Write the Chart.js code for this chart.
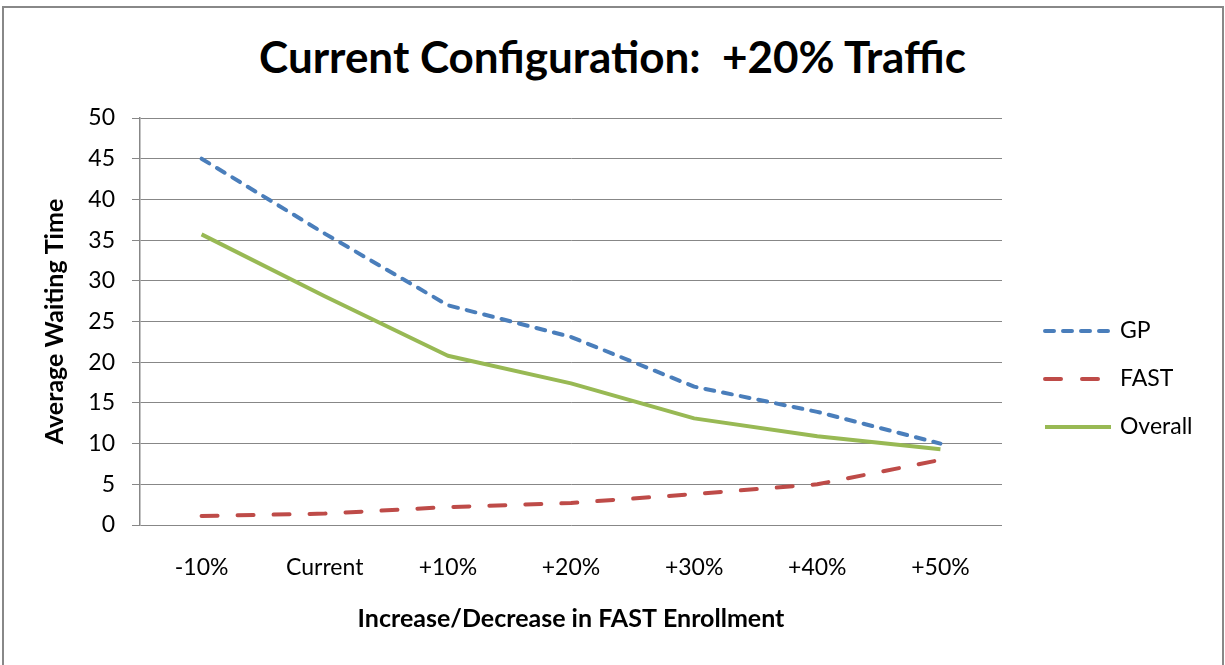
<!DOCTYPE html>
<html>
<head>
<meta charset="utf-8">
<title>Current Configuration: +20% Traffic</title>
<script src="https://cdn.jsdelivr.net/npm/chart.js@4.4.1/dist/chart.umd.min.js"></script>
<style>
    body {
        margin: 0;
        background: #ffffff;
        font-family: Lato, "Open Sans", sans-serif;
    }
    #frame {
        position: absolute;
        left: 2px;
        top: 6px;
        width: 1222px;
        height: 700px;
        border: 2px solid #888888;
        box-sizing: border-box;
    }
    #chartTitle {
        position: absolute;
        left: 0;
        top: 30px;
        width: 1225px;
        text-align: center;
        font: bold 44px Lato, "Open Sans", sans-serif;
        line-height: 52px;
        color: #000000;
        white-space: pre;
    }
    #waitChart {
        position: absolute;
        left: 0;
        top: 0;
    }
</style>
</head>
<body>

<div id="frame"></div>
<div id="chartTitle">Current Configuration:  +20% Traffic</div>
<canvas id="waitChart" width="1225" height="665"></canvas>

<script>
// ======================================================
// Data
// ======================================================

const categories = ["-10%", "Current", "+10%", "+20%", "+30%", "+40%", "+50%"];

const gpValues = [45, 35.8, 27, 23.1, 17, 13.9, 10];

const fastValues = [1.1, 1.4, 2.2, 2.7, 3.8, 5.0, 8.0];

const overallValues = [35.7, 28.1, 20.8, 17.4, 13.1, 10.9, 9.3];

const yTicks = [0, 5, 10, 15, 20, 25, 30, 35, 40, 45, 50];

// ======================================================
// Legend drawn at the right, like the Excel one
// ======================================================

const sideLegend = {

    id: "sideLegend",

    afterDraw(chart) {

        const ctx = chart.ctx;
        const rows = [331, 379, 427];

        ctx.save();

        chart.data.datasets.forEach((ds, i) => {

            let y = rows[i];

            ctx.beginPath();
            ctx.strokeStyle = ds.borderColor;
            ctx.lineWidth = ds.borderWidth;
            ctx.lineCap = ds.borderCapStyle || "butt";
            ctx.setLineDash(ds.legendDash || []);
            ctx.moveTo(1045, y);
            ctx.lineTo(1111, y);
            ctx.stroke();

            ctx.setLineDash([]);
            ctx.fillStyle = "#000000";
            ctx.font = "23px Lato, 'Open Sans', sans-serif";
            ctx.textBaseline = "middle";
            ctx.textAlign = "left";
            ctx.fillText(ds.label, 1120, y);

        });

        ctx.restore();

    }

};

// ======================================================
// Chart
// ======================================================

function createWaitChart() {

    let ctx = document.getElementById("waitChart");

    new Chart(ctx, {

        type: "line",

        data: {

            labels: categories,

            datasets: [

                {
                    label: "GP",
                    data: gpValues,
                    borderColor: "#4A7EBB",
                    borderWidth: 4,
                    borderDash: [9, 9],
                    legendDash: [9, 9],
                    borderCapStyle: "round",
                    borderJoinStyle: "round",
                    pointRadius: 0,
                    tension: 0,
                    order: 2
                },

                {
                    label: "FAST",
                    data: fastValues,
                    borderColor: "#BE4B48",
                    borderWidth: 4,
                    borderDash: [16, 20],
                    legendDash: [16, 21],
                    borderCapStyle: "round",
                    borderJoinStyle: "round",
                    pointRadius: 0,
                    tension: 0,
                    order: 1
                },

                {
                    label: "Overall",
                    data: overallValues,
                    borderColor: "#98B954",
                    borderWidth: 4,
                    borderCapStyle: "butt",
                    borderJoinStyle: "round",
                    pointRadius: 0,
                    tension: 0,
                    order: 0
                }

            ]

        },

        options: {

            responsive: false,

            animation: false,

            layout: {
                padding: { top: 118, left: 40, right: 223, bottom: 0 }
            },

            plugins: {
                legend: { display: false },
                title: { display: false },
                tooltip: { enabled: false }
            },

            scales: {

                x: {
                    offset: true,
                    grid: { display: false, drawTicks: false },
                    border: { display: false },
                    ticks: {
                        color: "#000000",
                        padding: 29,
                        maxRotation: 0,
                        font: { family: "Lato", size: 23 }
                    },
                    title: {
                        display: true,
                        text: "Increase/Decrease in FAST Enrollment",
                        color: "#000000",
                        padding: { top: 0, bottom: 31 },
                        font: { family: "Lato", size: 25, weight: "bold" }
                    },
                    afterFit(scale) {
                        scale.height = 140;
                    }
                },

                y: {
                    min: 0,
                    max: 50,
                    afterBuildTicks(scale) {
                        scale.ticks = yTicks.map(v => ({ value: v }));
                    },
                    grid: {
                        color: "#878787",
                        lineWidth: 1,
                        tickLength: 8
                    },
                    border: { color: "#878787", width: 1.5 },
                    ticks: {
                        color: "#000000",
                        padding: 17,
                        font: { family: "Lato", size: 23 }
                    },
                    title: {
                        display: true,
                        text: "Average Waiting Time",
                        color: "#000000",
                        padding: { top: 0, bottom: 0 },
                        font: { family: "Lato", size: 25, weight: "bold" }
                    },
                    afterFit(scale) {
                        scale.width = 100;
                    }
                }

            }

        },

        plugins: [sideLegend]

    });

}

document.addEventListener("DOMContentLoaded", function () {

    createWaitChart();

});
</script>

</body>
</html>
